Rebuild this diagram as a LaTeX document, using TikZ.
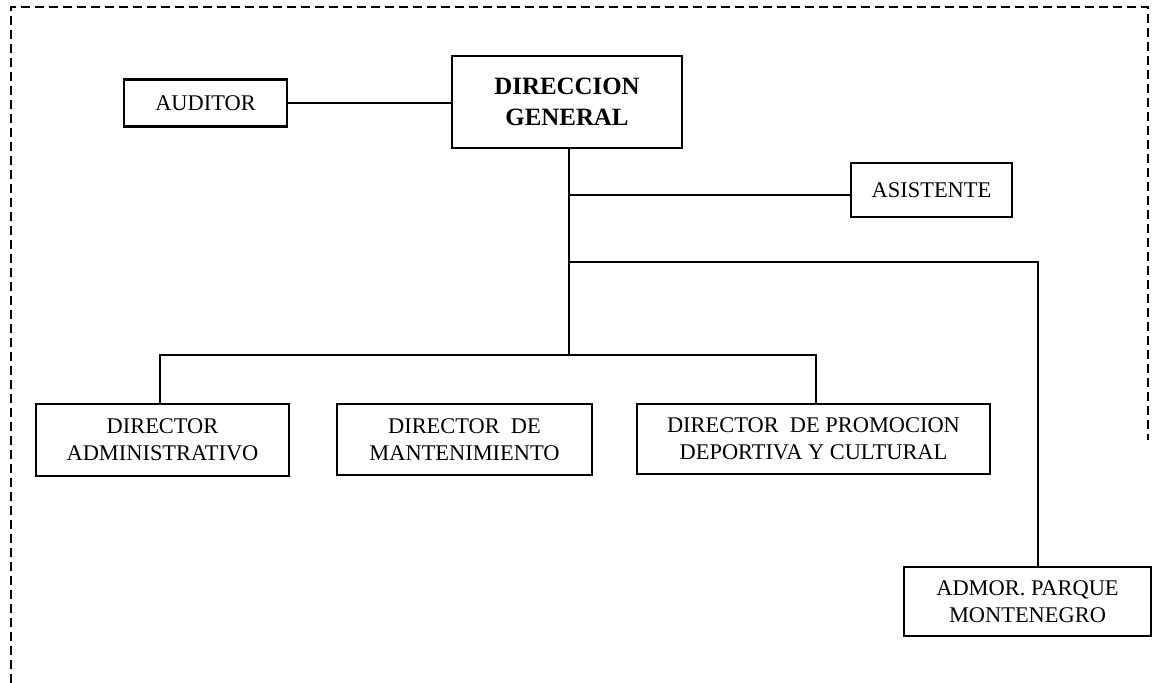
\documentclass[tikz,border=0pt]{standalone}
\usepackage{fontspec}
\setmainfont{Liberation Serif}
\begin{document}
\begin{tikzpicture}[x=1bp,y=-1bp,
  box/.style={draw, line width=2.4bp, align=center, inner sep=0pt, font=\fontsize{22.5}{27}\selectfont},
  conn/.style={line width=2bp},
  border/.style={line width=2bp, dash pattern=on 9bp off 5bp}]
\useasboundingbox (0,0) rectangle (1153,683);
% dashed frame
\coordinate (fbl) at (11,683);
\coordinate (ftl) at (11,7);
\coordinate (ftr) at (1148,7);
\coordinate (fbr) at (1148,440);
\draw[border] (fbl) -- (ftl) -- (ftr) -- (fbr);
% boxes
\node[box, minimum width=163bp, minimum height=47bp] (aud) at (205.5,103) {AUDITOR};
\node[box, minimum width=230bp, minimum height=92bp, font=\fontsize{25}{31}\selectfont\bfseries] (dg) at (567,102) {DIRECCION\\GENERAL};
\node[box, minimum width=161bp, minimum height=54bp] (asis) at (931.5,190) {ASISTENTE};
\node[box, minimum width=253bp, minimum height=72bp] (admin) at (162.5,440) {DIRECTOR\\ADMINISTRATIVO};
\node[box, minimum width=255bp, minimum height=71bp] (mant) at (464.5,439.5) {DIRECTOR\ \ DE\\MANTENIMIENTO};
\node[box, minimum width=353bp, minimum height=70bp] (promo) at (813.5,439) {DIRECTOR\ \ DE PROMOCION\\DEPORTIVA Y CULTURAL};
\node[box, minimum width=247bp, minimum height=69bp] (admor) at (1027.5,601.5) {ADMOR. PARQUE\\MONTENEGRO};
% connectors
\coordinate (tx) at (569,0);
\coordinate (j1) at (569,195);
\coordinate (j2) at (569,262);
\coordinate (j3) at (569,355);
\coordinate (c2) at (1038,262);
\coordinate (l3) at (160,355);
\coordinate (r3) at (816,355);
\draw[conn] (aud.east) -- (aud.east -| dg.west);
\draw[conn] (dg.south -| tx) -- (j3);
\draw[conn] (j1) -- (j1 -| asis.west);
\draw[conn] (j2) -- (c2) -- (c2 |- admor.north);
\draw[conn] (l3 |- admin.north) -- (l3) -- (r3) -- (r3 |- promo.north);
\end{tikzpicture}
\end{document}
